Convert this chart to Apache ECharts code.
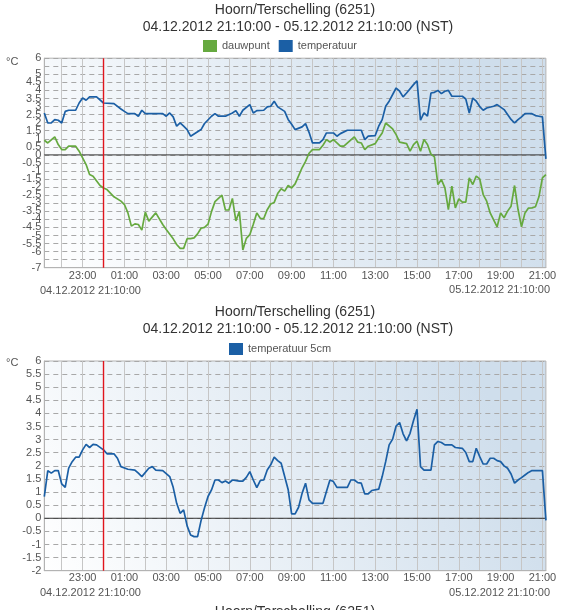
<!DOCTYPE html>
<html><head><meta charset="utf-8">
<script src="https://cdn.jsdelivr.net/npm/echarts@6/dist/echarts.min.js"></script>
<style>html,body{margin:0;padding:0;background:#fff;}#c{width:564px;height:610px;}</style>
</head><body><div id="c"></div>
<script>
const FONT = "'Liberation Sans', Arial, sans-serif";
const stationTitle = 'Hoorn/Terschelling (6251)';
const periodTitle = '04.12.2012 21:10:00 - 05.12.2012 21:10:00 (NST)';
const startLabel = '04.12.2012 21:10:00';
const endLabel = '05.12.2012 21:10:00';
const unitLabel = '°C';
const seriesNames = ['dauwpunt', 'temperatuur', 'temperatuur 5cm'];
const topRange = [-7, 6];
const bottomRange = [-2, 6];
const markerTime = '00:00';

const dauwTimes = ['21:10','21:20','21:40','21:50','22:00','22:10','22:20','22:40','22:50','23:10','23:20','23:30','23:50','00:00','00:10','00:30','00:50','01:00','01:10','01:20','01:30','01:40','01:50','02:00','02:10','02:30','02:50','03:00','03:20','03:30','03:40','03:50','04:00','04:10','04:20','04:30','04:40','04:50','05:00','05:10','05:20','05:30','05:40','05:50','06:00','06:10','06:20','06:30','06:40','06:50','07:00','07:10','07:20','07:30','07:40','07:50','08:00','08:10','08:20','08:30','08:40','08:50','09:00','09:10','09:20','09:30','09:40','09:50','10:00','10:20','10:30','10:40','10:50','11:00','11:20','11:30','12:00','12:10','12:20','12:30','12:40','13:00','13:10','13:20','13:30','13:50','14:00','14:10','14:30','14:40','14:50','15:00','15:10','15:20','15:30','15:40','15:50','16:00','16:10','16:20','16:30','16:40','16:50','17:00','17:10','17:20','17:30','17:40','17:50','18:00','18:10','18:20','18:30','18:50','19:00','19:10','19:20','19:30','19:40','19:50','20:00','20:10','20:20','20:30','20:40','20:50','21:00','21:10'];
const dauwValues = [0.91,0.74,1.12,0.64,0.33,0.33,0.54,0.54,0.23,-0.6,-1.22,-1.32,-1.9,-2.05,-2.15,-2.6,-2.87,-3.08,-3.6,-4.42,-4.28,-4.32,-4.67,-3.55,-4.11,-3.6,-4.32,-4.63,-5.21,-5.56,-5.8,-5.8,-5.2,-5.2,-5.15,-4.9,-4.55,-4.5,-4.3,-3.52,-2.9,-2.7,-2.5,-3.42,-3.42,-2.7,-4.1,-3.5,-5.9,-5.18,-4.95,-4.3,-3.6,-3.93,-3.95,-3.4,-3.05,-2.95,-2.4,-2.1,-2.25,-1.9,-2.05,-1.8,-1.3,-0.8,-0.4,0.1,0.33,0.33,0.6,0.95,0.8,0.95,0.54,0.54,1.12,0.79,0.74,0.33,0.54,0.7,1.05,1.36,1.98,1.61,1.26,0.79,0.7,0.23,0.64,0.85,0.23,0.95,0.64,0.05,-0.12,-1.84,-1.53,-2.05,-3.39,-1.94,-3.29,-2.73,-2.93,-2.93,-1.43,-1.84,-1.32,-1.49,-2.46,-2.87,-3.6,-4.46,-3.6,-3.9,-3.49,-3.18,-1.9,-3.39,-4.46,-3.6,-3.3,-3.29,-3.22,-2.6,-1.43,-1.22];

const tempTimes = ['21:10','21:20','21:30','21:40','21:50','22:00','22:10','22:20','22:40','22:50','23:00','23:10','23:20','23:40','00:00','00:30','00:50','01:00','01:10','01:30','01:40','01:50','02:00','02:30','02:50','03:00','03:10','03:20','03:30','03:40','03:50','04:00','04:10','04:40','04:50','05:10','05:20','05:30','05:50','06:10','06:20','06:30','06:40','07:00','07:10','07:20','07:40','07:50','08:00','08:10','08:20','08:40','08:50','09:00','09:10','09:30','09:40','09:50','10:00','10:20','10:30','10:40','11:00','11:10','11:20','11:40','12:20','12:30','12:40','13:00','13:10','13:20','13:30','13:40','14:00','14:10','14:20','14:30','14:50','15:00','15:10','15:20','15:30','15:40','15:50','16:00','16:10','16:20','16:30','16:40','17:10','17:20','17:30','17:40','17:50','18:00','18:10','18:20','18:40','18:50','19:10','19:20','19:30','19:40','19:50','20:00','20:10','20:30','20:40','20:50','21:00','21:10'];
const tempValues = [2.6,1.98,1.98,2.19,2.15,1.98,2.7,2.77,2.77,3.22,3.53,3.39,3.6,3.6,3.22,3.18,2.85,2.7,2.56,2.56,2.4,2.77,2.56,2.56,2.56,2.4,2.6,2.36,1.78,1.98,1.78,1.57,1.16,1.57,1.95,2.4,2.56,2.4,2.4,2.6,2.75,2.4,2.77,3.12,2.6,2.75,2.77,2.98,3.02,3.33,2.98,2.7,2.2,1.9,1.57,1.74,1.94,1.4,0.74,0.74,0.95,1.36,1.36,1.16,1.32,1.53,1.53,0.95,1.16,1.2,1.78,2.19,3.02,3.33,4.15,3.95,3.6,3.84,4.36,4.6,2.15,2.6,2.4,3.84,3.88,4.0,3.8,3.95,4.0,3.64,3.64,3.47,2.6,3.53,3.33,3.0,2.77,2.91,3.02,3.12,2.81,2.5,2.2,1.98,2.19,2.36,2.56,2.56,2.44,2.4,2.36,-0.25];

const soilTimes = ['21:10','21:20','21:30','21:40','21:50','22:00','22:10','22:20','22:30','22:40','22:50','23:00','23:10','23:20','23:30','23:40','00:00','00:10','00:30','00:40','00:50','01:10','01:30','01:40','01:50','02:10','02:20','02:30','02:50','03:10','03:20','03:30','03:40','03:50','04:00','04:10','04:20','04:30','04:40','04:50','05:00','05:10','05:20','05:30','05:40','05:50','06:00','06:10','06:30','06:40','06:50','07:00','07:10','07:20','07:30','07:40','07:50','08:00','08:10','08:20','08:30','08:50','09:00','09:10','09:20','09:30','09:40','09:50','10:00','10:30','10:40','10:50','11:00','11:10','11:40','11:50','12:00','12:10','12:20','12:30','12:40','12:50','13:10','13:20','13:30','13:40','13:50','14:00','14:10','14:20','14:30','14:40','14:50','15:00','15:10','15:20','15:40','15:50','16:00','16:10','16:20','16:40','16:50','17:10','17:20','17:30','17:40','17:50','18:00','18:10','18:20','18:30','18:40','18:50','19:00','19:10','19:20','19:30','19:40','19:50','20:00','20:10','20:20','20:30','21:00','21:10'];
const soilValues = [0.83,1.82,1.72,1.82,1.82,1.31,1.18,1.91,2.16,2.33,2.33,2.61,2.82,2.7,2.82,2.8,2.61,2.46,2.46,2.29,1.97,1.87,1.84,1.72,1.59,1.91,1.97,1.84,1.82,1.59,1.18,0.57,0.19,0.32,-0.29,-0.64,-0.7,-0.7,-0.09,0.4,0.83,1.08,1.46,1.46,1.36,1.42,1.34,1.46,1.42,1.42,1.56,1.78,1.46,1.17,1.44,1.46,1.84,2.04,2.33,2.2,2.1,1.1,0.17,0.17,0.42,0.95,1.34,0.7,0.57,0.57,1.02,1.46,1.4,1.18,1.18,1.46,1.46,1.36,1.34,0.93,0.93,1.06,1.11,1.59,2.16,2.8,3.02,3.52,3.65,3.22,2.95,3.24,3.73,4.16,1.97,1.84,1.84,2.8,2.93,2.89,2.8,2.8,2.7,2.67,2.51,2.16,2.16,2.67,2.35,2.07,2.07,2.29,2.29,2.2,2.16,2.0,1.91,1.69,1.34,1.46,1.55,1.65,1.75,1.82,1.82,-0.08];

// 10-minute time slots from 04.12 21:10 to 05.12 21:10
const START_MIN = 21 * 60 + 10;
const categories = [];
for (let i = 0; i <= 144; i++) {
  const t = (START_MIN + i * 10) % 1440;
  categories.push(String(Math.floor(t / 60)).padStart(2, '0') + ':' + String(t % 60).padStart(2, '0'));
}
function toPairs(times, values) {
  let prev = -1, dayOff = 0;
  return times.map((t, i) => {
    const p = t.split(':').map(Number);
    let mins = p[0] * 60 + p[1] + dayOff;
    if (mins < prev) { dayOff += 1440; mins += 1440; }
    prev = mins;
    return [(mins - START_MIN) / 10, values[i]];
  });
}
const midnightIndex = categories.indexOf(markerTime);
const lastIndex = categories.length - 1;

const C_DAUW = '#66a93f', C_TEMP = '#1b5fa5', C_RED = '#e0141c', C_ZERO = '#333333';
const bg = { type: 'linear', x: 0, y: 1, x2: 0.85, y2: 0, colorStops: [{ offset: 0, color: '#ffffff' }, { offset: 1, color: '#cfdeec' }] };

function xAx(g, margin) {
  return {
    type: 'category', gridIndex: g, data: categories, boundaryGap: false,
    axisLine: { show: true, onZero: false, lineStyle: { color: '#b3b3b3' } },
    axisTick: { show: false },
    axisLabel: {
      color: '#555', fontSize: 11, fontFamily: FONT, margin: margin, hideOverlap: false,
      interval: (i, v) => v.endsWith(':00') && parseInt(v, 10) % 2 === 1
    },
    splitLine: { show: true, interval: (i, v) => v.endsWith(':00') && v !== markerTime, lineStyle: { color: '#c6c6c6', width: 1 } }
  };
}
function yAx(g, range) {
  return {
    type: 'value', gridIndex: g, min: range[0], max: range[1], interval: 0.5,
    axisLine: { show: true, onZero: false, lineStyle: { color: '#b3b3b3' } },
    axisTick: { show: false },
    axisLabel: { color: '#555', fontSize: 11, fontFamily: FONT, margin: 3, showMinLabel: true, showMaxLabel: true, hideOverlap: false },
    splitLine: { show: true, lineStyle: { color: '#a8a8a8', type: [5, 4], width: 1 } }
  };
}
function lineSeries(name, xi, color, data, width, z) {
  return {
    name: name, type: 'line', xAxisIndex: xi, yAxisIndex: xi,
    data: data, symbol: 'none', showSymbol: false, silent: !name,
    itemStyle: { color: color }, lineStyle: { color: color, width: width, opacity: 1 }, z: z,
    emphasis: { disabled: true }
  };
}
const titleStyle = { fontSize: 14, fontWeight: 'normal', color: '#333', fontFamily: FONT };
const legendText = { color: '#555', fontSize: 11, fontFamily: FONT };
const smallText = (txt, x, y, align) => ({
  type: 'text', x: x, y: y, silent: true,
  style: { text: txt, fill: '#555', font: '11px ' + FONT, align: align, textAlign: align, verticalAlign: 'middle', textVerticalAlign: 'middle' }
});

const chart = echarts.init(document.getElementById('c'), null, { renderer: 'canvas' });
chart.setOption({
  animation: false,
  textStyle: { fontFamily: FONT },
  title: [
    { text: stationTitle, left: 295, top: 3, textAlign: 'center', padding: 0, textStyle: titleStyle },
    { text: periodTitle, left: 298, top: 20, textAlign: 'center', padding: 0, textStyle: titleStyle },
    { text: stationTitle, left: 295, top: 305, textAlign: 'center', padding: 0, textStyle: titleStyle },
    { text: periodTitle, left: 298, top: 322, textAlign: 'center', padding: 0, textStyle: titleStyle },
    { text: stationTitle, left: 295, top: 605, textAlign: 'center', padding: 0, textStyle: titleStyle }
  ],
  legend: [
    { data: [seriesNames[0], seriesNames[1]], left: 203, top: 40, padding: 0, itemWidth: 14, itemHeight: 12, itemGap: 9, icon: 'rect', textStyle: legendText },
    { data: [seriesNames[2]], left: 229, top: 343, padding: 0, itemWidth: 14, itemHeight: 12, itemGap: 9, icon: 'rect', textStyle: legendText }
  ],
  grid: [
    { left: 44.3, top: 58.2, width: 501.6, height: 209.5, show: true, backgroundColor: bg, borderColor: '#b3b3b3', borderWidth: 1 },
    { left: 44.3, top: 361, width: 501.6, height: 209.7, show: true, backgroundColor: bg, borderColor: '#b3b3b3', borderWidth: 1 }
  ],
  xAxis: [xAx(0, 3), xAx(1, 2)],
  yAxis: [yAx(0, topRange), yAx(1, bottomRange)],
  series: [
    lineSeries('', 0, C_ZERO, [[0, 0], [lastIndex, 0]], 1, 2),
    lineSeries('', 1, C_ZERO, [[0, 0], [lastIndex, 0]], 1, 2),
    lineSeries(seriesNames[0], 0, C_DAUW, toPairs(dauwTimes, dauwValues), 1.7, 3),
    lineSeries(seriesNames[1], 0, C_TEMP, toPairs(tempTimes, tempValues), 1.7, 3),
    lineSeries(seriesNames[2], 1, C_TEMP, toPairs(soilTimes, soilValues), 1.7, 3),
    lineSeries('', 0, C_RED, [[midnightIndex, topRange[0]], [midnightIndex, topRange[1]]], 1.4, 4),
    lineSeries('', 1, C_RED, [[midnightIndex, bottomRange[0]], [midnightIndex, bottomRange[1]]], 1.4, 4)
  ],
  graphic: [
    smallText(unitLabel, 6, 62, 'left'),
    smallText(unitLabel, 6, 363, 'left'),
    smallText(startLabel, 40, 291, 'left'),
    smallText(endLabel, 550, 290, 'right'),
    smallText(startLabel, 40, 593, 'left'),
    smallText(endLabel, 550, 593, 'right')
  ]
});
</script></body></html>
